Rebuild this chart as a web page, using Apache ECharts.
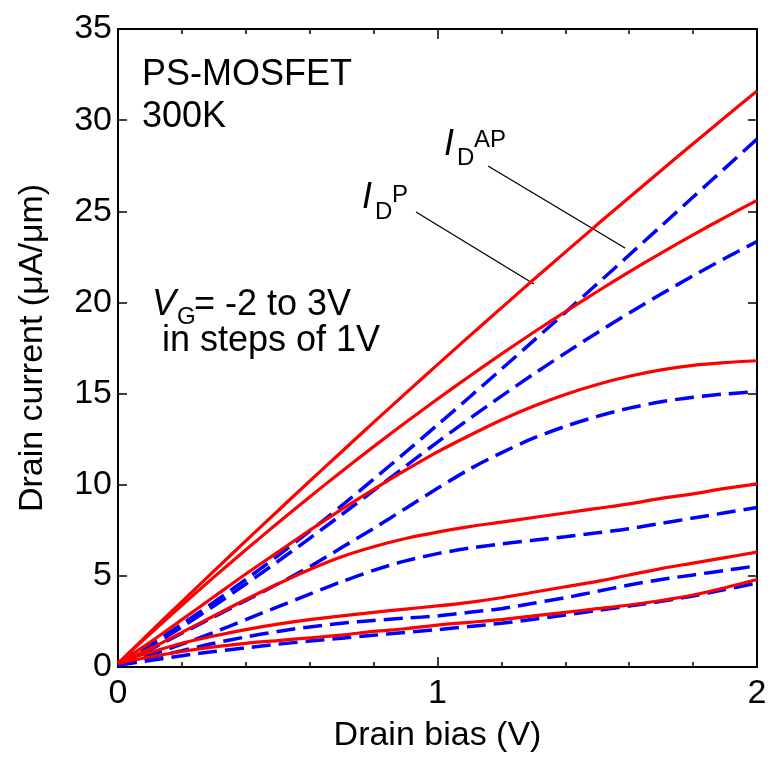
<!DOCTYPE html>
<html>
<head>
<meta charset="utf-8">
<script src="https://cdn.jsdelivr.net/npm/echarts@6/dist/echarts.min.js"></script>
<style>
  html, body { margin: 0; padding: 0; background: #fff; }
  #chart { width: 770px; height: 760px; }
</style>
</head>
<body>
<div id="chart"></div>
<script>
// drain bias (V)
var drainBias = [0, 0.1, 0.2, 0.3, 0.4, 0.5, 0.6, 0.7, 0.8, 0.9, 1.0,
                 1.1, 1.2, 1.3, 1.4, 1.5, 1.6, 1.7, 1.8, 1.9, 2.0];

// parallel state, I_D^P (red, solid), VG = 3 .. -2
var idP_vg3  = [0.2, 1.9, 3.59, 5.26, 6.92, 8.56, 10.2, 11.81, 13.42, 15.01, 16.59, 18.15, 19.7, 21.24, 22.76, 24.27, 25.76, 27.24, 28.71, 30.16, 31.6];
var idP_vg2  = [0.2, 1.81, 3.39, 4.93, 6.43, 7.9, 9.33, 10.73, 12.09, 13.41, 14.7, 15.95, 17.17, 18.35, 19.49, 20.6, 21.67, 22.71, 23.71, 24.67, 25.6];
var idP_vg1  = [0.2, 1.35, 2.6, 3.85, 5.1, 6.3, 7.5, 8.65, 9.75, 10.8, 11.8, 12.7, 13.55, 14.3, 14.95, 15.5, 15.95, 16.3, 16.55, 16.7, 16.8];
var idP_vg0  = [0.2, 1.0, 1.9, 2.8, 3.7, 4.55, 5.35, 6.05, 6.6, 7.05, 7.4, 7.7, 7.95, 8.2, 8.45, 8.7, 8.95, 9.25, 9.5, 9.8, 10.05];
var idP_vgm1 = [0.3, 0.8, 1.3, 1.7, 2.05, 2.35, 2.6, 2.8, 3.0, 3.18, 3.35, 3.55, 3.8, 4.1, 4.4, 4.7, 5.05, 5.4, 5.7, 6.0, 6.3];
var idP_vgm2 = [0.2, 0.55, 0.85, 1.1, 1.3, 1.45, 1.6, 1.75, 1.95, 2.1, 2.3, 2.45, 2.6, 2.8, 3.0, 3.2, 3.4, 3.65, 3.95, 4.35, 4.8];

// antiparallel state, I_D^AP (blue, dashed), VG = 3 .. -2
var idAP_vg3  = [0.1, 1.2, 2.35, 3.55, 4.8, 6.1, 7.45, 8.85, 10.3, 11.78, 13.28, 14.8, 16.34, 17.89, 19.45, 21.02, 22.6, 24.19, 25.78, 27.37, 28.96];
var idAP_vg2  = [0.1, 1.1, 2.2, 3.35, 4.55, 5.79, 7.06, 8.36, 9.68, 11.01, 12.34, 13.62, 14.86, 16.06, 17.22, 18.34, 19.42, 20.46, 21.46, 22.42, 23.34];
var idAP_vg1  = [0.1, 0.95, 1.85, 2.75, 3.65, 4.55, 5.5, 6.55, 7.6, 8.7, 9.8, 10.85, 11.75, 12.55, 13.2, 13.75, 14.2, 14.55, 14.8, 14.98, 15.1];
var idAP_vg0  = [0.1, 0.65, 1.25, 1.9, 2.6, 3.3, 4.0, 4.68, 5.3, 5.82, 6.22, 6.52, 6.75, 6.95, 7.15, 7.36, 7.59, 7.88, 8.17, 8.46, 8.75];
var idAP_vgm1 = [0.1, 0.5, 0.9, 1.3, 1.65, 1.95, 2.2, 2.4, 2.55, 2.68, 2.8, 3.0, 3.2, 3.5, 3.8, 4.15, 4.5, 4.8, 5.05, 5.3, 5.55];
var idAP_vgm2 = [0.1, 0.35, 0.62, 0.85, 1.05, 1.25, 1.42, 1.58, 1.74, 1.9, 2.05, 2.22, 2.4, 2.62, 2.85, 3.1, 3.35, 3.6, 3.9, 4.25, 4.6];

var parallelCurves = [idP_vg3, idP_vg2, idP_vg1, idP_vg0, idP_vgm1, idP_vgm2];
var antiparallelCurves = [idAP_vg3, idAP_vg2, idAP_vg1, idAP_vg0, idAP_vgm1, idAP_vgm2];

var FONT = '"Liberation Sans", Arial, Helvetica, sans-serif';

function toPairs(ys) {
  return drainBias.map(function (x, i) { return [x, ys[i]]; });
}

var series = [];
antiparallelCurves.forEach(function (ys) {
  series.push({
    type: 'line', data: toPairs(ys), smooth: 0.3, showSymbol: false, silent: true,
    lineStyle: { color: '#0000ff', width: 3.5, type: [19, 8] }
  });
});
parallelCurves.forEach(function (ys) {
  series.push({
    type: 'line', data: toPairs(ys), smooth: 0.3, showSymbol: false, silent: true,
    lineStyle: { color: '#ff0000', width: 3.2, type: 'solid' }
  });
});

function xAxisCfg(pos, labels) {
  return {
    type: 'value', position: pos, min: 0, max: 2, interval: 1,
    axisLine: { show: true, onZero: false, lineStyle: { color: '#000', width: 2 } },
    axisTick: { show: true, inside: true, length: 10, lineStyle: { color: '#000', width: 1.5 } },
    minorTick: { show: true, splitNumber: 5, length: 5, lineStyle: { color: '#000', width: 1.5 } },
    axisLabel: { show: labels, color: '#000', fontSize: 34, fontFamily: FONT, margin: 10 },
    splitLine: { show: false },
    name: labels ? 'Drain bias (V)' : '',
    nameLocation: 'middle', nameGap: 52,
    nameTextStyle: { color: '#000', fontSize: 34, fontFamily: FONT }
  };
}
function yAxisCfg(pos, labels) {
  return {
    type: 'value', position: pos, min: 0, max: 35, interval: 5,
    axisLine: { show: true, onZero: false, lineStyle: { color: '#000', width: 2 } },
    axisTick: { show: true, inside: true, length: 9, lineStyle: { color: '#000', width: 1.5 } },
    axisLabel: { show: labels, color: '#000', fontSize: 34, fontFamily: FONT, margin: 6 },
    splitLine: { show: false },
    name: labels ? 'Drain current (\u03bcA/\u03bcm)' : '',
    nameLocation: 'middle', nameGap: 68,
    nameTextStyle: { color: '#000', fontSize: 34, fontFamily: FONT }
  };
}

function label(x, y, text, size, italic) {
  return {
    type: 'text', x: x, y: y, silent: true,
    style: {
      text: text, fill: '#000',
      font: (italic ? 'italic ' : '') + size + 'px ' + FONT,
      textAlign: 'left', textVerticalAlign: 'middle',
      align: 'left', verticalAlign: 'middle'
    }
  };
}

var chart = echarts.init(document.getElementById('chart'), null, { renderer: 'canvas' });
chart.setOption({
  backgroundColor: '#fff',
  animation: false,
  grid: { left: 118, right: 13, top: 29, bottom: 93, containLabel: false, outerBoundsMode: 'none' },
  xAxis: [xAxisCfg('bottom', true), xAxisCfg('top', false)],
  yAxis: [yAxisCfg('left', true), yAxisCfg('right', false)],
  series: series,
  graphic: [
    label(142, 75, 'PS-MOSFET', 36),
    label(142, 117, '300K', 36),
    label(152, 305, 'V', 36, true),
    label(177, 317, 'G', 24),
    label(194, 305, '= -2 to 3V', 36),
    label(162, 341, 'in steps of 1V', 36),
    // I_D^P
    label(362, 198, 'I', 36, true),
    label(375, 212, 'D', 24),
    label(392, 195, 'P', 24),
    // I_D^AP
    label(444, 145, 'I', 36, true),
    label(457, 158, 'D', 24),
    label(474, 140, 'AP', 24),
    { type: 'line', silent: true, shape: { x1: 416, y1: 212, x2: 534, y2: 284 }, style: { stroke: '#000', lineWidth: 1.3 } },
    { type: 'line', silent: true, shape: { x1: 488, y1: 166, x2: 625, y2: 248 }, style: { stroke: '#000', lineWidth: 1.3 } }
  ]
});
</script>
</body>
</html>
